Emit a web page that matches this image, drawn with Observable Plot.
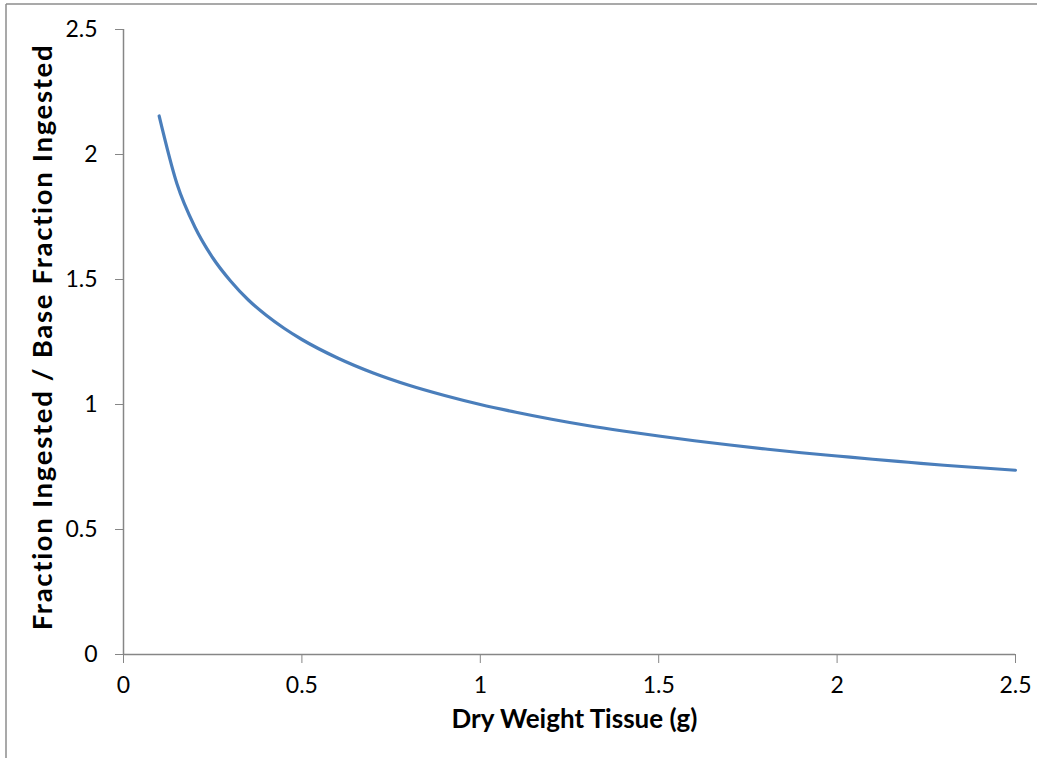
<!DOCTYPE html>
<html>
<head>
<meta charset="utf-8">
<script src="https://cdn.jsdelivr.net/npm/d3@7"></script>
<script src="https://cdn.jsdelivr.net/npm/@observablehq/plot@0.6"></script>
<style>
  html, body { margin: 0; padding: 0; background: #fff; }
  #chart svg { display: block; }
</style>
</head>
<body>
<div id="chart"></div>
<script>
const dryWeight = [0.1, 0.15, 0.2, 0.25, 0.3, 0.35, 0.4, 0.45, 0.5, 0.6, 0.7, 0.8, 0.9, 1.0, 1.1, 1.2, 1.3, 1.4, 1.5, 1.6, 1.7, 1.8, 1.9, 2.0, 2.1, 2.2, 2.3, 2.4, 2.5];
const fractionRatio = [2.154, 1.882, 1.71, 1.587, 1.494, 1.418, 1.357, 1.305, 1.26, 1.186, 1.126, 1.077, 1.036, 1.0, 0.969, 0.941, 0.916, 0.894, 0.874, 0.855, 0.838, 0.822, 0.807, 0.794, 0.781, 0.769, 0.757, 0.747, 0.737];
const xTicks = [0, 0.5, 1, 1.5, 2, 2.5];
const yTicks = [0, 0.5, 1, 1.5, 2, 2.5];
const xTitle = "Dry Weight Tissue (g)";
const yTitle = "Fraction Ingested / Base Fraction Ingested";

const data = dryWeight.map((x, i) => ({x, y: fractionRatio[i]}));
const axisColor = "#868686";
const fontFam = "Lato, 'Open Sans', sans-serif";
const fmt = d => String(d);

const chart = Plot.plot({
  width: 1038,
  height: 758,
  marginLeft: 123,
  marginRight: 23,
  marginTop: 29,
  marginBottom: 104,
  style: {fontFamily: fontFam, fontSize: "23px", color: "#000", background: "#fff"},
  x: {domain: [0, 2.5]},
  y: {domain: [0, 2.5]},
  marks: [
    Plot.axisX({ticks: xTicks, tickFormat: fmt, tickSize: 9, tickPadding: 13, stroke: axisColor, fill: "#000", label: null, fontSize: 23}),
    Plot.axisY({ticks: yTicks, tickFormat: fmt, tickSize: 8, tickPadding: 18, stroke: axisColor, fill: "#000", label: null, fontSize: 23}),
    Plot.ruleY([0], {stroke: axisColor, strokeWidth: 1.5}),
    Plot.ruleX([0], {stroke: axisColor, strokeWidth: 1.5}),
    Plot.line(data, {x: "x", y: "y", stroke: "#4A7EBB", strokeWidth: 3.2, curve: "monotone-x"}),
    Plot.text([xTitle], {frameAnchor: "bottom", textAnchor: "middle", dx: 5, dy: 73, fontWeight: "bold", fontSize: 26, fill: "#000"}),
    Plot.text([yTitle], {frameAnchor: "left", textAnchor: "middle", dx: -80, dy: -5, rotate: -90, fontWeight: "bold", fontSize: 27.5, fill: "#000"})
  ]
});

const svg = d3.select(chart);
svg.selectAll("text").filter(function() { return this.textContent === yTitle; })
  .style("letter-spacing", "1.7px");
svg.append("line").attr("x1", 6).attr("x2", 6).attr("y1", 4).attr("y2", 758).attr("stroke", "#8c8c8c").attr("stroke-width", 1.5);
svg.append("line").attr("x1", 6).attr("x2", 1037).attr("y1", 4).attr("y2", 4).attr("stroke", "#8c8c8c").attr("stroke-width", 1.5);

document.getElementById("chart").appendChild(chart);
</script>
</body>
</html>
